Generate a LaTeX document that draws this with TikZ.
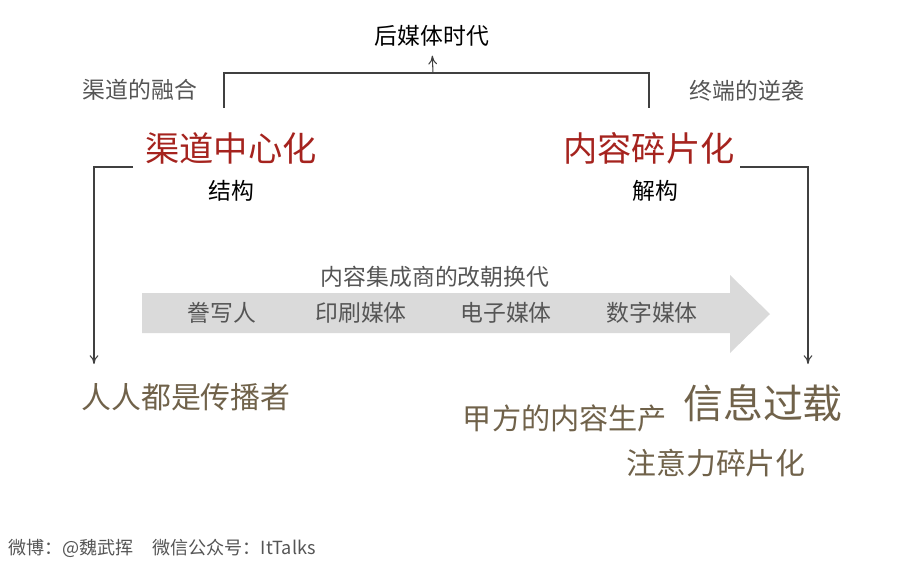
\documentclass[tikz,border=0pt]{standalone}
\usepackage{fontspec}
\setmainfont{Noto Sans CJK SC}
\usetikzlibrary{arrows.meta}
\definecolor{hotred}{RGB}{165,35,30}
\definecolor{earth}{RGB}{112,98,74}
\definecolor{band}{RGB}{218,218,218}
\definecolor{softgray}{RGB}{85,85,85}
\tikzset{
  txt/.style={inner sep=0pt, font=\fontsize{13}{13}\selectfont},
  big/.style={inner sep=0pt, font=\fontsize{19.5}{19.5}\selectfont, text=hotred},
  low/.style={inner sep=0pt, font=\fontsize{17}{17}\selectfont, text=earth},
  link/.style={draw=black!75, line width=0.6pt, -{To[length=5pt,width=5pt]}}
}
\begin{document}
\begin{tikzpicture}[x=0.02cm,y=-0.02cm]
  \useasboundingbox (0,0) rectangle (900,566);
  % top
  \node[txt] (post) at (432,36) {后媒体时代};
  \node[txt, text=softgray] (merge) at (140,90) {渠道的融合};
  \node[txt, text=softgray] (term) at (747,91) {终端的逆袭};
  \node[big] (center) at (231,148) {渠道中心化};
  \node[big] (frag) at (649,148) {内容碎片化};
  \node[txt] (struct) at (231,191) {结构};
  \node[txt] (destruct) at (655,191) {解构};
  \coordinate (join) at (433,73);
  \draw[line width=0.6pt, draw=black!75] (224,108) -- (224,73) -- (649,73) -- (649,108);
  \draw[link, shorten >=5pt] (join) -- (post.south);
  % big arrow
  \fill[band] (142,293) -- (730,293) -- (730,275) -- (770,314) -- (730,353)
    -- (730,333) -- (142,333) -- cycle;
  \node[txt, text=softgray] (swap) at (435,277) {内容集成商的改朝换代};
  \node[txt, text=softgray] (scribe) at (222,313) {誊写人};
  \node[txt, text=softgray] (print) at (361,313) {印刷媒体};
  \node[txt, text=softgray] (elec) at (506,313) {电子媒体};
  \node[txt, text=softgray] (digi) at (652,313) {数字媒体};
  % bottom
  \node[low] (everyone) at (186,397) {人人都是传播者};
  \node[low, font=\fontsize{16.6}{16.6}\selectfont] (client) at (565,418) {甲方的内容生产};
  \node[low, font=\fontsize{22.7}{22.7}\selectfont] (overload) at (763,403) {信息过载};
  \node[low] (attention) at (716,463) {注意力碎片化};
  \coordinate (lstart) at (133,167);
  \coordinate (rstart) at (740,167);
  \coordinate (lend) at (94,364);
  \coordinate (rend) at (808,364);
  \draw[link] (lstart) -- (lstart -| lend) -- (lend);
  \draw[link] (rstart) -- (rstart -| rend) -- (rend);
  \node[anchor=west, inner sep=0pt, text=softgray, font=\fontsize{10.3}{10.3}\selectfont]
    (credit) at (8,548) {微博：@魏武挥\quad 微信公众号：ItTalks};
\end{tikzpicture}
\end{document}
